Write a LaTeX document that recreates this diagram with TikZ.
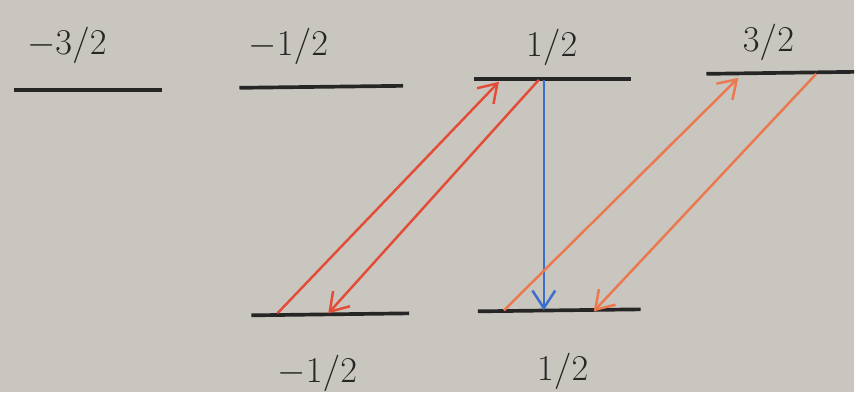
\documentclass[tikz,border=0pt]{standalone}
\usepackage{tikz}
\usetikzlibrary{arrows.meta,calc}
\definecolor{paper}{RGB}{200,198,190}
\definecolor{penred}{RGB}{228,76,56}
\definecolor{penorange}{RGB}{236,120,80}
\definecolor{penblue}{RGB}{60,110,205}
\begin{document}
\begin{tikzpicture}[x=0.2mm, y=-0.2mm, font=\huge,
  level/.style={line width=2.1pt, black!85},
  trans/.style={line width=1.4pt, -{Straight Barb[length=10pt,width=13pt,line width=1.4pt]}},
  mlabel/.style={inner sep=1pt, black!85}]
% paper
\fill[paper] (0,0) rectangle (856,393);
% upper levels
\coordinate (ua-l) at (14,90);  \coordinate (ua-r) at (162,90);
\coordinate (ub-l) at (240,88); \coordinate (ub-r) at (404,86);
\coordinate (uc-l) at (475,79); \coordinate (uc-r) at (632,79);
\coordinate (ud-l) at (708,74); \coordinate (ud-r) at (856,72);
% lower levels
\coordinate (la-l) at (252,316); \coordinate (la-r) at (410,314);
\coordinate (lb-l) at (479,312); \coordinate (lb-r) at (642,310);
\foreach \a/\b in {ua-l/ua-r, ub-l/ub-r, uc-l/uc-r, ud-l/ud-r, la-l/la-r, lb-l/lb-r}
  \draw[level] (\a) -- (\b);
% labels
\node[mlabel] (ua-t) at (67,45)  {$-3/2$};
\node[mlabel] (ub-t) at (289,47) {$-1/2$};
\node[mlabel] (uc-t) at (553,48) {$1/2$};
\node[mlabel] (ud-t) at (770,42) {$3/2$};
\node[mlabel] (la-t) at (318,374) {$-1/2$};
\node[mlabel] (lb-t) at (564,372) {$1/2$};
% transitions
\coordinate (r1-s) at (278,314); \coordinate (r1-e) at (500,82);
\coordinate (r2-s) at (540,80);  \coordinate (r2-e) at (329,314);
\coordinate (b1-s) at (545,80);  \coordinate (b1-e) at (545,311);
\coordinate (o1-s) at (505,311); \coordinate (o1-e) at (740,78);
\coordinate (o2-s) at (818,74);  \coordinate (o2-e) at (595,312);
\draw[trans, penred] (r1-s) -- (r1-e);
\draw[trans, penred] (r2-s) -- (r2-e);
\draw[trans, penblue] (b1-s) -- (b1-e);
\draw[trans, penorange] (o1-s) -- (o1-e);
\draw[trans, penorange] (o2-s) -- (o2-e);
\end{tikzpicture}
\end{document}
